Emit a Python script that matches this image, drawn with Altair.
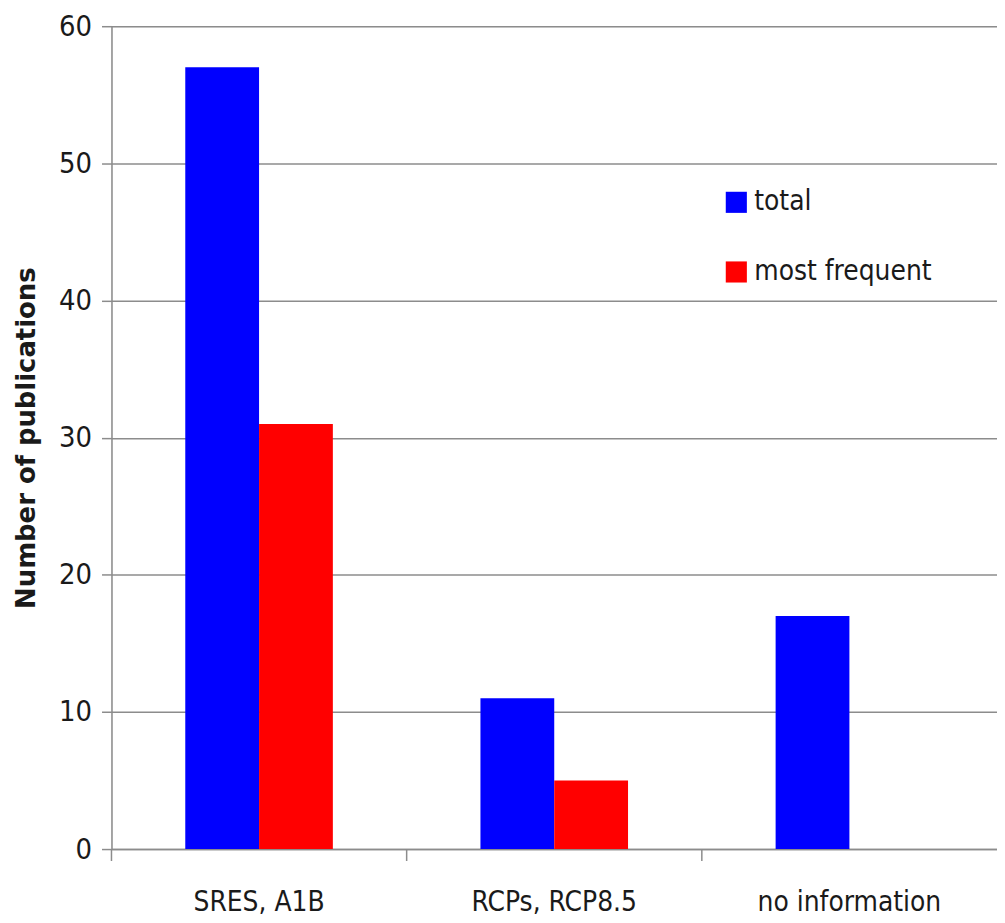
import altair as alt
import pandas as pd

categories = ["SRES, A1B", "RCPs, RCP8.5", "no information"]
series = ["total", "most frequent"]
total = [57, 11, 17]
most_frequent = [31, 5, 0]
y_ticks = [0, 10, 20, 30, 40, 50, 60]
colors = ["#0000ff", "#ff0000"]

rows = []
for c, t, m in zip(categories, total, most_frequent):
    rows.append({"category": c, "series": series[0], "value": t})
    rows.append({"category": c, "series": series[1], "value": m})
df = pd.DataFrame(rows)
cat_df = pd.DataFrame({"category": categories})

W, H = 890, 827
FONT = "DejaVu Sans Condensed, Roboto Condensed, Roboto, sans-serif"
GRID = "#8c8c8c"
TXT = "#1a1a1a"

x_scale = alt.Scale(domain=categories, paddingInner=0, paddingOuter=0)

bars = alt.Chart(df).mark_bar().encode(
    x=alt.X(
        "category:N", scale=x_scale, sort=categories,
        axis=alt.Axis(title=None, ticks=False, labelAngle=0, labelFont=FONT,
                      labelFontSize=28, labelColor=TXT, labelPadding=40,
                      labelLimit=400,
                      domainColor=GRID, domainWidth=1.5, grid=False),
    ),
    xOffset=alt.XOffset("series:N", sort=series,
                        scale=alt.Scale(domain=series, paddingOuter=1, paddingInner=0)),
    y=alt.Y(
        "value:Q", scale=alt.Scale(domain=[0, 60], nice=False),
        axis=alt.Axis(values=y_ticks, title="Number of publications",
                      titleFont="DejaVu Sans", titleFontWeight="bold", titleFontSize=26,
                      titleColor=TXT, titleX=-85, titleY=H / 2, titleBaseline="middle",
                      labelFont=FONT, labelFontSize=29, labelColor=TXT, labelPadding=10,
                      tickSize=10, tickColor=GRID, tickWidth=1.5,
                      domainColor=GRID, domainWidth=1.5,
                      grid=True, gridColor=GRID, gridWidth=1.5),
    ),
    color=alt.Color(
        "series:N", sort=series, scale=alt.Scale(domain=series, range=colors),
        legend=alt.Legend(title=None, orient="none", legendX=614, legendY=163,
                          symbolType="square", symbolSize=450, symbolStrokeWidth=0,
                          labelFont=FONT, labelFontSize=28, labelColor=TXT,
                          labelLimit=400, rowPadding=42, labelOffset=4),
    ),
)

ticks = alt.Chart(cat_df).mark_rule(color=GRID, strokeWidth=1.5).encode(
    x=alt.X("category:N", bandPosition=0, scale=x_scale, sort=categories),
    y=alt.value(H),
    y2=alt.value(H + 12),
)

chart = alt.layer(bars, ticks).properties(
    width=W, height=H,
    autosize=alt.AutoSizeParams(type="none"),
    padding={"left": 104, "top": 16, "right": 0, "bottom": 70},
).configure_view(stroke=None).configure(background="white")

chart.save("out.html", embed_options={"renderer": "svg", "actions": False})
